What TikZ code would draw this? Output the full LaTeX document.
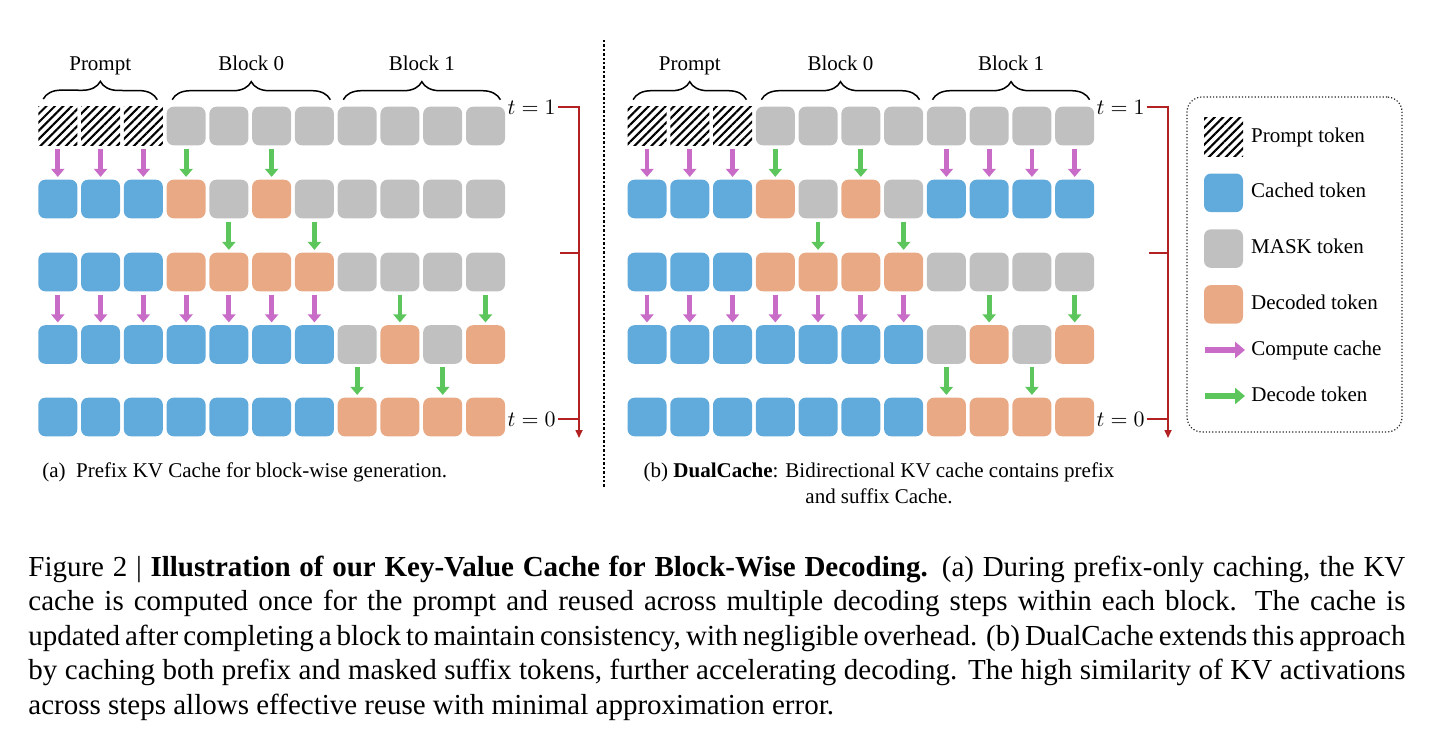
\documentclass[tikz,border=0pt]{standalone}
\usepackage{fontspec}
\setmainfont{Liberation Serif}
\usepackage{tikz}
\usetikzlibrary{arrows.meta,positioning,patterns.meta,decorations.pathreplacing}
\definecolor{cacheblue}{HTML}{60AADC}
\definecolor{maskgray}{HTML}{C0C0C0}
\definecolor{decodeorange}{HTML}{E8A984}
\definecolor{computepink}{HTML}{C86CC8}
\definecolor{decodegreen}{HTML}{5CC65C}
\definecolor{timered}{HTML}{B22222}
\newcommand{\figfont}{\fontsize{10.5}{13}\selectfont}
\tikzset{
    %Define style for tokens
    token/.style={
    	rectangle,
    	rounded corners=3.5pt,
    	minimum width=19.5pt,
    	minimum height=19.3pt,
    	inner sep=0pt
    },
    prompttok/.style={
    	token, sharp corners,
    	pattern={Lines[angle=45,distance=3pt,line width=1.05pt]}
    },
    cachedtok/.style={token, fill=cacheblue},
    masktok/.style={token, fill=maskgray},
    decodedtok/.style={token, fill=decodeorange},
    % Define arrow styles
    cachepil/.style={
           -{Triangle[width=6.5pt,length=4pt]},
           draw=computepink,
           line width=2.4pt,
           shorten <=1.5pt,
           shorten >=1.2pt},
    decodepil/.style={cachepil, draw=decodegreen},
    legcachepil/.style={
           -{Triangle[width=8pt,length=5pt]},
           draw=computepink,
           line width=3pt,
           shorten >=3pt},
    legdecodepil/.style={legcachepil, draw=decodegreen},
    timeline/.style={draw=timered, line width=0.8pt},
    % Define text styles
    blockbrace/.style={decorate, decoration={brace,amplitude=9pt}, line width=0.75pt},
    blocklabel/.style={midway, above=12pt, inner sep=0pt, text depth=2.3pt, font=\figfont},
    timelabel/.style={anchor=east, inner sep=1pt, font=\figfont},
    legendtext/.style={inner sep=0pt, anchor=west, text height=7.3pt, text depth=2.3pt, font=\figfont},
    legendbox/.style={
    	rectangle,
    	rounded corners=7.5pt,
    	draw=black!85, densely dotted, line width=0.6pt,
    	minimum width=107.5pt,
    	minimum height=167.5pt
    },
    sepline/.style={draw=black, densely dotted, line width=1.2pt}
}

\begin{document}
\begin{tikzpicture}[x=0.5pt,y=-0.5pt]
	\useasboundingbox (0,0) rectangle (1440,738);
	% (a) prefix cache
	\foreach \s [count=\i] in {prompttok,prompttok,prompttok,masktok,masktok,masktok,masktok,masktok,masktok,masktok,masktok}
		\node[\s] (a-0-\i) at ({15.03+42.77*\i},126) {};
	\foreach \s [count=\i] in {cachedtok,cachedtok,cachedtok,decodedtok,masktok,decodedtok,masktok,masktok,masktok,masktok,masktok}
		\node[\s] (a-1-\i) at ({15.03+42.77*\i},199) {};
	\foreach \s [count=\i] in {cachedtok,cachedtok,cachedtok,decodedtok,decodedtok,decodedtok,decodedtok,masktok,masktok,masktok,masktok}
		\node[\s] (a-2-\i) at ({15.03+42.77*\i},272) {};
	\foreach \s [count=\i] in {cachedtok,cachedtok,cachedtok,cachedtok,cachedtok,cachedtok,cachedtok,masktok,decodedtok,masktok,decodedtok}
		\node[\s] (a-3-\i) at ({15.03+42.77*\i},344.5) {};
	\foreach \s [count=\i] in {cachedtok,cachedtok,cachedtok,cachedtok,cachedtok,cachedtok,cachedtok,decodedtok,decodedtok,decodedtok,decodedtok}
		\node[\s] (a-4-\i) at ({15.03+42.77*\i},417) {};
	\foreach \i in {1,2,3} \draw[cachepil] (a-0-\i) -- (a-1-\i);
	\foreach \i in {4,6} \draw[decodepil] (a-0-\i) -- (a-1-\i);
	\foreach \i in {5,7} \draw[decodepil] (a-1-\i) -- (a-2-\i);
	\foreach \i in {1,...,7} \draw[cachepil] (a-2-\i) -- (a-3-\i);
	\foreach \i in {9,11} \draw[decodepil] (a-2-\i) -- (a-3-\i);
	\foreach \i in {8,10} \draw[decodepil] (a-3-\i) -- (a-4-\i);
	\draw[blockbrace] ([xshift=3pt,yshift=3.3pt]a-0-1.north west) -- node[blocklabel]{Prompt} ([xshift=-3pt,yshift=3.3pt]a-0-3.north east);
	\draw[blockbrace] ([xshift=3pt,yshift=3.3pt]a-0-4.north west) -- node[blocklabel]{Block 0} ([xshift=-2pt,yshift=3.3pt]a-0-7.north east);
	\draw[blockbrace] ([xshift=3pt,yshift=3.3pt]a-0-8.north west) -- node[blocklabel]{Block 1} ([xshift=-2.5pt,yshift=3.3pt]a-0-11.north east);
	\node[timelabel] (ta-t1) at (558,107) {$t = 1$};
	\node[timelabel] (ta-t0) at (558,419) {$t = 0$};
	\coordinate (ta-top) at (579,107);
	\coordinate (ta-end) at (579,438);
	\coordinate (ta-tick) at (560,253);
	\coordinate (ta-mid) at (579,253);
	\draw[timeline,-{Triangle[width=3.5pt,length=4pt]}] (ta-t1) -- (ta-top) -- (ta-end);
	\draw[timeline] (ta-tick) -- (ta-mid);
	\draw[timeline] (ta-t0) -- (ta-t0 -| ta-top);
	\node[anchor=base west, inner sep=0pt, font=\figfont] (cap-a) at (42,477) {(a)~~Prefix KV Cache for block-wise generation.};

	% separator
	\coordinate (sep-top) at (604,40);
	\coordinate (sep-bot) at (604,487);
	\draw[sepline] (sep-top) -- (sep-bot);

	% (b) dual cache
	\foreach \s [count=\i] in {prompttok,prompttok,prompttok,masktok,masktok,masktok,masktok,masktok,masktok,masktok,masktok}
		\node[\s] (b-0-\i) at ({604.23+42.77*\i},126) {};
	\foreach \s [count=\i] in {cachedtok,cachedtok,cachedtok,decodedtok,masktok,decodedtok,masktok,cachedtok,cachedtok,cachedtok,cachedtok}
		\node[\s] (b-1-\i) at ({604.23+42.77*\i},199) {};
	\foreach \s [count=\i] in {cachedtok,cachedtok,cachedtok,decodedtok,decodedtok,decodedtok,decodedtok,masktok,masktok,masktok,masktok}
		\node[\s] (b-2-\i) at ({604.23+42.77*\i},272) {};
	\foreach \s [count=\i] in {cachedtok,cachedtok,cachedtok,cachedtok,cachedtok,cachedtok,cachedtok,masktok,decodedtok,masktok,decodedtok}
		\node[\s] (b-3-\i) at ({604.23+42.77*\i},344.5) {};
	\foreach \s [count=\i] in {cachedtok,cachedtok,cachedtok,cachedtok,cachedtok,cachedtok,cachedtok,decodedtok,decodedtok,decodedtok,decodedtok}
		\node[\s] (b-4-\i) at ({604.23+42.77*\i},417) {};
	\foreach \i in {1,2,3,8,9,10,11} \draw[cachepil] (b-0-\i) -- (b-1-\i);
	\foreach \i in {4,6} \draw[decodepil] (b-0-\i) -- (b-1-\i);
	\foreach \i in {5,7} \draw[decodepil] (b-1-\i) -- (b-2-\i);
	\foreach \i in {1,...,7} \draw[cachepil] (b-2-\i) -- (b-3-\i);
	\foreach \i in {9,11} \draw[decodepil] (b-2-\i) -- (b-3-\i);
	\foreach \i in {8,10} \draw[decodepil] (b-3-\i) -- (b-4-\i);
	\draw[blockbrace] ([xshift=3pt,yshift=3.3pt]b-0-1.north west) -- node[blocklabel]{Prompt} ([xshift=-3pt,yshift=3.3pt]b-0-3.north east);
	\draw[blockbrace] ([xshift=3pt,yshift=3.3pt]b-0-4.north west) -- node[blocklabel]{Block 0} ([xshift=-2pt,yshift=3.3pt]b-0-7.north east);
	\draw[blockbrace] ([xshift=3pt,yshift=3.3pt]b-0-8.north west) -- node[blocklabel]{Block 1} ([xshift=-2.5pt,yshift=3.3pt]b-0-11.north east);
	\node[timelabel] (tb-t1) at (1147,107) {$t = 1$};
	\node[timelabel] (tb-t0) at (1147,419) {$t = 0$};
	\coordinate (tb-top) at (1168,107);
	\coordinate (tb-end) at (1168,438);
	\coordinate (tb-tick) at (1149,253);
	\coordinate (tb-mid) at (1168,253);
	\draw[timeline,-{Triangle[width=3.5pt,length=4pt]}] (tb-t1) -- (tb-top) -- (tb-end);
	\draw[timeline] (tb-tick) -- (tb-mid);
	\draw[timeline] (tb-t0) -- (tb-t0 -| tb-top);
	\node[align=center, anchor=base, inner sep=0pt, font=\figfont] (cap-b) at (879,503) {(b) \textbf{DualCache}: Bidirectional KV cache contains prefix\\and suffix Cache.};

	% legend
	\node[legendbox] (legend) at (1294.5,264.5) {};
	\node[prompttok] (lg-p) at (1223.5,137) {};
	\node[cachedtok, below=8.2pt of lg-p] (lg-c) {};
	\node[masktok, below=8.2pt of lg-c] (lg-m) {};
	\node[decodedtok, below=8.2pt of lg-m] (lg-d) {};
	\node[legendtext, right=3.7pt of lg-p] (lgt-p) {Prompt token};
	\node[legendtext, right=3.7pt of lg-c] (lgt-c) {Cached token};
	\node[legendtext, right=3.7pt of lg-m] (lgt-m) {MASK token};
	\node[legendtext, right=3.7pt of lg-d] (lgt-d) {Decoded token};
	\node[legendtext] (lgt-cc) at (1251,350) {Compute cache};
	\node[legendtext] (lgt-dt) at (1251,396) {Decode token};
	\coordinate (lg-cc) at (1205,350);
	\coordinate (lg-dt) at (1205,396);
	\draw[legcachepil] (lg-cc) -- (lgt-cc);
	\draw[legdecodepil] (lg-dt) -- (lgt-dt);

	% figure caption
	\node[anchor=base west, inner sep=0pt, text width=688.5pt, align=justify, font=\fontsize{14.5}{17.25}\selectfont] (figcap) at (28,576) {Figure 2 | \textbf{Illustration of our Key-Value Cache for Block-Wise Decoding.} (a) During prefix-only caching, the KV\linebreak cache is computed once for the prompt and reused across multiple decoding steps within each block.  The cache is\linebreak updated after completing a block to maintain consistency, with negligible overhead. (b) DualCache extends this approach\linebreak by caching both prefix and masked suffix tokens, further accelerating decoding. The high similarity of KV activations\linebreak across steps allows effective reuse with minimal approximation error.};
\end{tikzpicture}
\end{document}
